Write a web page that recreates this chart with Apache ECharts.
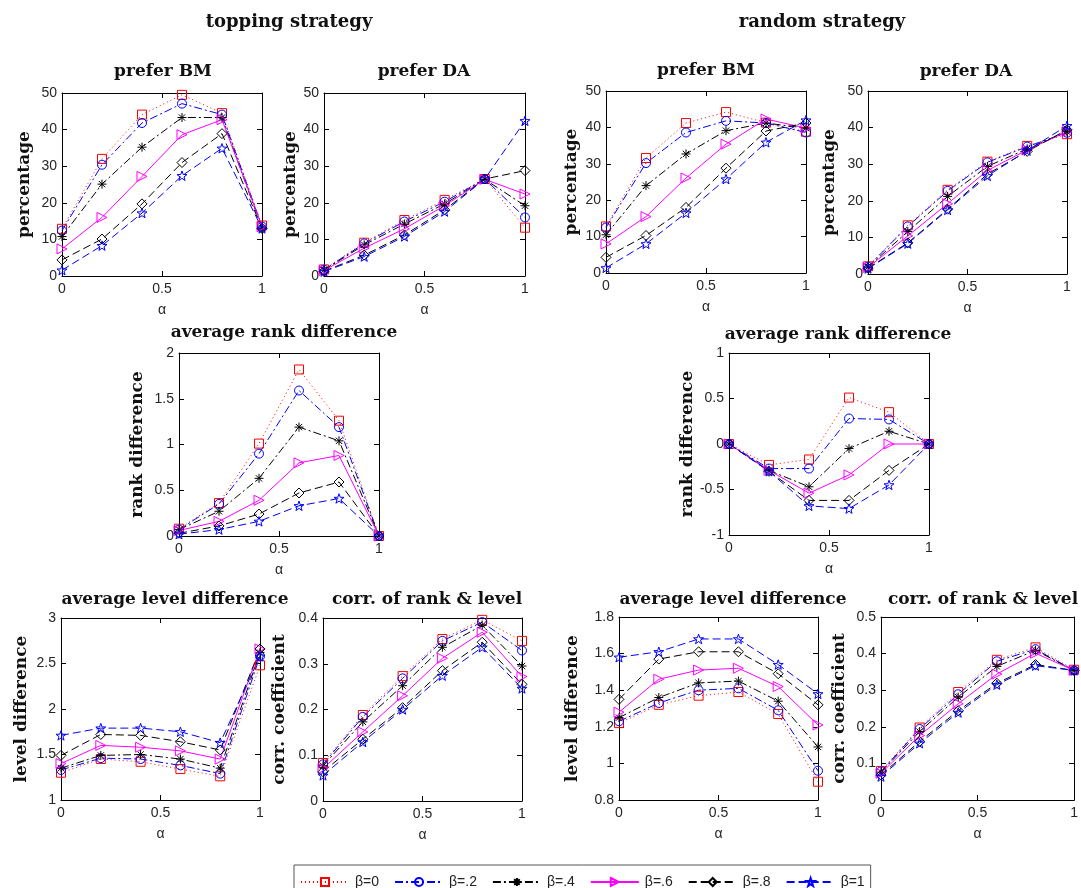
<!DOCTYPE html>
<html lang="en">
<head>
    <meta charset="UTF-8">
    <title>topping vs random strategy</title>
    <script src="https://cdn.jsdelivr.net/npm/echarts@6/dist/echarts.min.js"></script>
    <style>
        body { margin: 0; background: #fff; }
        #chart { width: 1081px; height: 888px; }
    </style>
</head>
<body>
    <div id="chart"></div>
    <script type="text/javascript">
        // x values and series names
        const alpha = [0, 0.2, 0.4, 0.6, 0.8, 1];
        const betaNames = ['β=0', 'β=.2', 'β=.4', 'β=.6', 'β=.8', 'β=1'];

        // topping strategy, one row per beta
        const toppingBM = [
            [12.9, 32.0, 44.1, 49.5, 44.5, 13.8],
            [12.4, 30.4, 41.8, 47.1, 44.1, 13.5],
            [10.8, 25.1, 35.2, 43.3, 43.3, 13.0],
            [7.4, 16.0, 27.2, 38.6, 42.7, 13.5],
            [4.4, 10.1, 19.7, 31.0, 38.9, 13.0],
            [1.6, 8.3, 17.2, 27.4, 34.9, 13.0]
        ];
        const toppingDA = [
            [1.8, 9.1, 15.3, 20.8, 26.5, 13.2],
            [1.7, 8.9, 14.9, 20.3, 26.5, 16.0],
            [1.6, 8.5, 14.2, 19.7, 26.4, 19.2],
            [1.5, 7.6, 12.9, 19.2, 26.4, 22.4],
            [1.3, 5.7, 11.2, 18.1, 26.5, 28.8],
            [1.2, 5.3, 10.8, 17.6, 26.5, 42.4]
        ];
        const toppingRank = [
            [0.08, 0.36, 1.01, 1.82, 1.26, 0],
            [0.07, 0.35, 0.90, 1.59, 1.19, 0],
            [0.07, 0.27, 0.63, 1.19, 1.04, 0],
            [0.06, 0.16, 0.39, 0.80, 0.88, 0],
            [0.03, 0.11, 0.24, 0.47, 0.59, 0],
            [0.02, 0.07, 0.16, 0.33, 0.41, 0]
        ];
        const toppingLevel = [
            [1.30, 1.45, 1.42, 1.34, 1.26, 2.48],
            [1.33, 1.46, 1.45, 1.38, 1.29, 2.58],
            [1.35, 1.49, 1.50, 1.45, 1.35, 2.62],
            [1.40, 1.60, 1.58, 1.54, 1.45, 2.66],
            [1.49, 1.72, 1.71, 1.64, 1.55, 2.66],
            [1.71, 1.79, 1.79, 1.75, 1.63, 2.58]
        ];
        const toppingCorr = [
            [0.083, 0.188, 0.273, 0.354, 0.396, 0.350],
            [0.080, 0.184, 0.268, 0.350, 0.391, 0.329],
            [0.077, 0.173, 0.252, 0.336, 0.384, 0.295],
            [0.071, 0.151, 0.230, 0.312, 0.369, 0.272],
            [0.064, 0.135, 0.204, 0.285, 0.347, 0.255],
            [0.056, 0.129, 0.200, 0.274, 0.336, 0.246]
        ];

        // random strategy
        const randomBM = [
            [12.8, 31.6, 41.2, 44.2, 41.3, 38.8],
            [12.5, 30.2, 38.6, 41.8, 41.2, 38.6],
            [10.5, 24.0, 32.7, 39.1, 41.2, 39.8],
            [8.0, 15.5, 26.1, 35.4, 42.3, 39.8],
            [4.3, 10.3, 18.0, 28.8, 39.0, 41.2],
            [1.4, 8.0, 16.5, 25.8, 35.9, 42.0]
        ];
        const randomDA = [
            [2.1, 13.3, 23.0, 30.7, 35.0, 38.2],
            [2.0, 13.0, 22.7, 30.5, 34.8, 38.6],
            [1.9, 11.6, 21.2, 29.4, 34.2, 38.9],
            [1.8, 10.4, 19.2, 28.3, 33.9, 38.9],
            [1.6, 8.5, 17.7, 27.3, 33.5, 39.4],
            [1.5, 8.3, 17.5, 26.8, 33.7, 40.5]
        ];
        const randomRank = [
            [0, -0.23, -0.17, 0.51, 0.35, 0],
            [0, -0.27, -0.27, 0.28, 0.27, 0],
            [0, -0.29, -0.47, -0.05, 0.14, 0],
            [0, -0.29, -0.54, -0.34, 0, 0],
            [0, -0.30, -0.62, -0.62, -0.29, 0],
            [0, -0.30, -0.68, -0.71, -0.45, 0]
        ];
        const randomLevel = [
            [1.22, 1.32, 1.37, 1.39, 1.27, 0.90],
            [1.23, 1.33, 1.40, 1.41, 1.29, 0.96],
            [1.25, 1.36, 1.44, 1.45, 1.34, 1.09],
            [1.28, 1.46, 1.51, 1.52, 1.42, 1.21],
            [1.35, 1.57, 1.61, 1.61, 1.49, 1.32],
            [1.58, 1.61, 1.68, 1.68, 1.54, 1.38]
        ];
        const randomCorr = [
            [0.079, 0.198, 0.295, 0.383, 0.417, 0.356],
            [0.078, 0.194, 0.289, 0.379, 0.412, 0.354],
            [0.076, 0.187, 0.281, 0.365, 0.409, 0.354],
            [0.073, 0.176, 0.263, 0.344, 0.401, 0.354],
            [0.068, 0.160, 0.244, 0.319, 0.370, 0.354],
            [0.064, 0.155, 0.239, 0.315, 0.367, 0.354]
        ];

        // marker shapes (MATLAB-like)
        const asterisk = 'path://M5,0 L5,10 M0,5 L10,5 M1.5,1.5 L8.5,8.5 M1.5,8.5 L8.5,1.5';
        const triRight = 'path://M0,0 L10,5 L0,10 Z';
        const pentagram = 'path://M10,0 L12.35,6.76 L19.51,6.91 L13.8,11.24 L15.88,18.09 L10,14 L4.12,18.09 L6.2,11.24 L0.49,6.91 L7.65,6.76 Z';

        const styles = [
            { color: '#ff0000', dash: [1, 3], symbol: 'rect', size: 9 },
            { color: '#0000ff', dash: [8, 3, 2, 3], symbol: 'circle', size: 9 },
            { color: '#000000', dash: [8, 3, 2, 3], symbol: asterisk, size: 9 },
            { color: '#ff00ff', dash: 'solid', symbol: triRight, size: 10 },
            { color: '#000000', dash: [8, 4], symbol: 'diamond', size: 10 },
            { color: '#0000ff', dash: [8, 4], symbol: pentagram, size: 10 }
        ];

        // grid box: left, top, width, height
        const panels = [
            { data: toppingBM, box: [62, 93, 200, 183], y: [0, 50, 10], yName: 'percentage', gap: 29 },
            { data: toppingDA, box: [324, 93, 201, 183], y: [0, 50, 10], yName: 'percentage', gap: 24 },
            { data: randomBM, box: [606, 91, 200, 182], y: [0, 50, 10], yName: 'percentage', gap: 26 },
            { data: randomDA, box: [868, 91, 199, 183], y: [0, 50, 10], yName: 'percentage', gap: 30 },
            { data: toppingRank, box: [179, 353, 200, 183], y: [0, 2, 0.5], yName: 'rank difference', gap: 33 },
            { data: randomRank, box: [729, 353, 200, 182], y: [-1, 1, 0.5], yName: 'rank difference', gap: 29 },
            { data: toppingLevel, box: [61, 618, 199, 182], y: [1, 3, 0.5], yName: 'level difference', gap: 31 },
            { data: toppingCorr, box: [323, 618, 199, 183], y: [0, 0.4, 0.1], yName: 'corr. coefficient', gap: 35 },
            { data: randomLevel, box: [619, 617, 199, 183], y: [0.8, 1.8, 0.2], yName: 'level difference', gap: 38 },
            { data: randomCorr, box: [881, 617, 199, 183], y: [0, 0.5, 0.1], yName: 'corr. coefficient', gap: 33 }
        ];

        const titles = [
            ['topping strategy', 289, 22, 18],
            ['random strategy', 822, 22, 18],
            ['prefer BM', 163, 72, 17],
            ['prefer DA', 424, 72, 17],
            ['prefer BM', 706, 71, 17],
            ['prefer DA', 966, 72, 17],
            ['average rank difference', 284, 333, 17],
            ['average rank difference', 838, 335, 17],
            ['average level difference', 175, 600, 17],
            ['corr. of rank & level', 427, 600, 17],
            ['average level difference', 733, 600, 17],
            ['corr. of rank & level', 983, 600, 17]
        ];

        const serif = 'DejaVu Serif';
        const sans = 'Liberation Sans';

        const option = {
            animation: false,
            backgroundColor: '#fff',
            grid: [], xAxis: [], yAxis: [], series: [],
            graphic: titles.map(t => ({
                type: 'text',
                x: t[1], y: t[2],
                style: {
                    text: t[0], align: 'center', verticalAlign: 'middle',
                    font: 'bold ' + t[3] + 'px "' + serif + '"', fill: '#111'
                }
            })),
            legend: {
                left: 294, top: 865,
                padding: [10, 6, 6, 6],
                borderColor: '#555', borderWidth: 1,
                itemWidth: 48, itemHeight: 10, itemGap: 15,
                selectedMode: false,
                data: betaNames,
                textStyle: { fontFamily: sans, fontSize: 14, color: '#222', padding: [0, 0, 0, 1] }
            }
        };

        panels.forEach((p, k) => {
            option.grid.push({ left: p.box[0], top: p.box[1], width: p.box[2], height: p.box[3] });
            const frame = {
                gridIndex: k, type: 'value',
                axisLine: { show: true, onZero: false, lineStyle: { color: '#000', width: 1 } },
                axisTick: { show: true, inside: true, length: 5, lineStyle: { color: '#000' } },
                splitLine: { show: false }
            };
            const label = { fontFamily: sans, fontSize: 14, color: '#262626', margin: 6 };
            const xr = { min: 0, max: 1, interval: 0.5 };
            const yr = { min: p.y[0], max: p.y[1], interval: p.y[2] };
            option.xAxis.push(Object.assign({}, frame, xr, {
                position: 'bottom', axisLabel: label,
                name: 'α', nameLocation: 'middle', nameGap: 27,
                nameTextStyle: { fontFamily: sans, fontSize: 14, color: '#262626' }
            }));
            option.xAxis.push(Object.assign({}, frame, xr, { position: 'top', axisLabel: { show: false } }));
            option.yAxis.push(Object.assign({}, frame, yr, {
                position: 'left', axisLabel: Object.assign({}, label, { margin: 5 }),
                name: p.yName, nameLocation: 'middle', nameGap: p.gap,
                nameTextStyle: { fontFamily: serif, fontWeight: 'bold', fontSize: 17, color: '#111' }
            }));
            option.yAxis.push(Object.assign({}, frame, yr, { position: 'right', axisLabel: { show: false } }));

            p.data.forEach((vals, j) => {
                const s = styles[j];
                option.series.push({
                    type: 'line',
                    name: betaNames[j],
                    xAxisIndex: 2 * k, yAxisIndex: 2 * k,
                    data: alpha.map((a, i) => [a, vals[i]]),
                    symbol: s.symbol, symbolSize: s.size, symbolKeepAspect: true,
                    showAllSymbol: true, clip: false,
                    lineStyle: { color: s.color, width: 1, type: s.dash },
                    itemStyle: { color: 'rgba(0,0,0,0)', borderColor: s.color, borderWidth: 1 },
                    emphasis: { disabled: true }
                });
            });
        });

        const chart = echarts.init(document.getElementById('chart'));
        chart.setOption(option);
    </script>
</body>
</html>
